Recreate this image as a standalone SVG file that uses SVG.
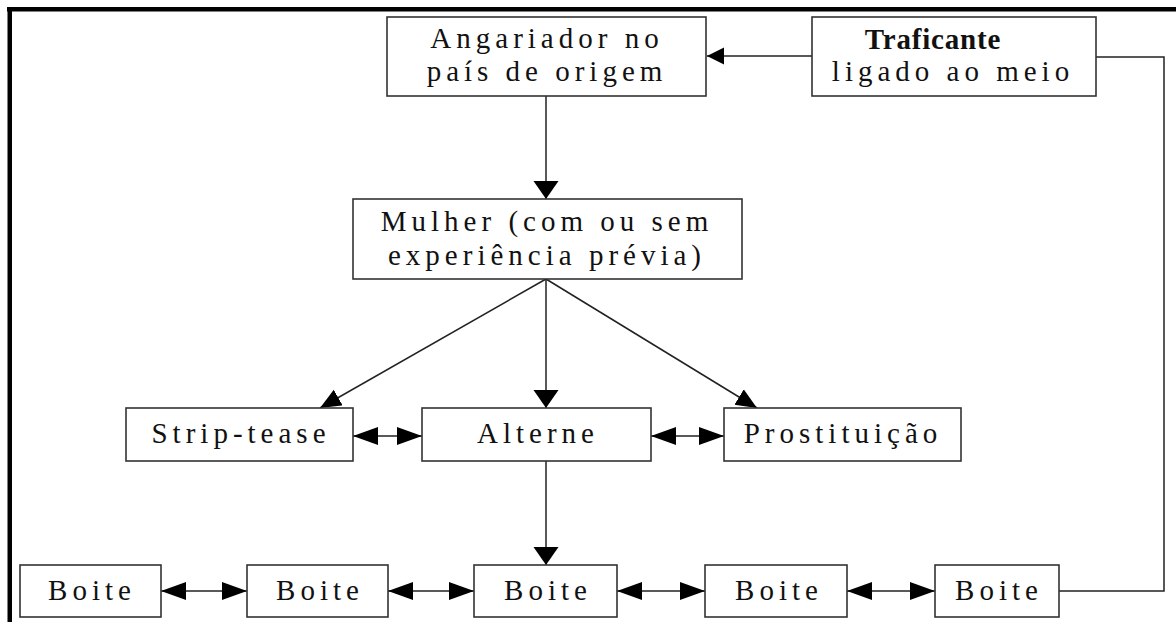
<svg xmlns="http://www.w3.org/2000/svg" width="1176" height="622" viewBox="0 0 1176 622">
<style>
.box{fill:#fff;stroke:#333;stroke-width:1.6}
.t{font-family:"Liberation Serif","Times New Roman",serif;font-size:29px;fill:#111;letter-spacing:5px;text-anchor:middle}
.tb{font-family:"Liberation Serif","Times New Roman",serif;font-size:29px;fill:#111;font-weight:bold;letter-spacing:0.8px;text-anchor:middle}
.c{fill:none;stroke:#222;stroke-width:1.5}
</style>
<defs>
<marker id="ah" markerUnits="userSpaceOnUse" markerWidth="26" markerHeight="19" refX="25" refY="9" orient="auto-start-reverse" viewBox="0 0 26 19">
<path d="M0,0 L25,9 L0,18 z" fill="#000"/>
</marker>
<marker id="av" markerUnits="userSpaceOnUse" markerWidth="19" markerHeight="26" refX="18" refY="12.5" orient="auto" viewBox="0 0 19 26">
<path d="M0,0 L18,12.5 L0,25 z" fill="#000"/>
</marker>
<marker id="at" markerUnits="userSpaceOnUse" markerWidth="18" markerHeight="18" refX="17" refY="8.5" orient="auto" viewBox="0 0 18 18">
<path d="M0,0 L17,8.5 L0,17 z" fill="#000"/>
</marker>
<marker id="ad" markerUnits="userSpaceOnUse" markerWidth="22" markerHeight="20" refX="21" refY="9" orient="auto" viewBox="0 0 22 20">
<path d="M0,0 L21,9 L0,18 z" fill="#000"/>
</marker>
</defs>
<rect x="0" y="0" width="1176" height="622" fill="#fff"/>
<rect x="7" y="7" width="1169" height="4.5" fill="#000"/>
<rect x="7.5" y="7" width="4.5" height="615" fill="#000"/>
<g id="connectors">
<path class="c" d="M812,56 H707" marker-end="url(#at)"/>
<path class="c" d="M1096,57 H1164 V591 H1059"/>
<path class="c" d="M546,96 V199" marker-end="url(#av)"/>
<path class="c" d="M546,279 L320,408" marker-end="url(#ad)"/>
<path class="c" d="M546,279 V408" marker-end="url(#av)"/>
<path class="c" d="M546,279 L757,408" marker-end="url(#ad)"/>
<path class="c" d="M353,436 H422" marker-start="url(#ah)" marker-end="url(#ah)"/>
<path class="c" d="M651,436 H724" marker-start="url(#ah)" marker-end="url(#ah)"/>
<path class="c" d="M546,461 V565" marker-end="url(#av)"/>
<path class="c" d="M161,591 H247" marker-start="url(#ah)" marker-end="url(#ah)"/>
<path class="c" d="M388,591 H474" marker-start="url(#ah)" marker-end="url(#ah)"/>
<path class="c" d="M617,591 H705" marker-start="url(#ah)" marker-end="url(#ah)"/>
<path class="c" d="M847,591 H935" marker-start="url(#ah)" marker-end="url(#ah)"/>
</g>
<g id="angariador">
<rect class="box" x="387" y="17" width="319" height="79"/>
<text class="t" x="547" y="48">Angariador no</text>
<text class="t" x="547" y="81">país de origem</text>
</g>
<g id="traficante">
<rect class="box" x="812" y="17" width="284" height="79"/>
<text class="tb" x="933" y="49">Traficante</text>
<text class="t" x="953" y="81">ligado ao meio</text>
</g>
<g id="mulher">
<rect class="box" x="353" y="199" width="389" height="80"/>
<text class="t" x="547" y="231">Mulher (com ou sem</text>
<text class="t" x="547" y="265">experiência prévia)</text>
</g>
<g id="striptease">
<rect class="box" x="126" y="408" width="227" height="53"/>
<text class="t" x="241" y="443">Strip-tease</text>
</g>
<g id="alterne">
<rect class="box" x="422" y="408" width="229" height="53"/>
<text class="t" x="538" y="443">Alterne</text>
</g>
<g id="prostituicao">
<rect class="box" x="724" y="408" width="237" height="53"/>
<text class="t" x="843" y="443">Prostituição</text>
</g>
<g id="boite1">
<rect class="box" x="20" y="565" width="141" height="52"/>
<text class="t" x="92" y="600">Boite</text>
</g>
<g id="boite2">
<rect class="box" x="247" y="565" width="141" height="52"/>
<text class="t" x="320" y="600">Boite</text>
</g>
<g id="boite3">
<rect class="box" x="474" y="565" width="143" height="52"/>
<text class="t" x="548" y="600">Boite</text>
</g>
<g id="boite4">
<rect class="box" x="705" y="565" width="142" height="52"/>
<text class="t" x="779" y="600">Boite</text>
</g>
<g id="boite5">
<rect class="box" x="935" y="565" width="124" height="52"/>
<text class="t" x="999" y="600">Boite</text>
</g>
</svg>
